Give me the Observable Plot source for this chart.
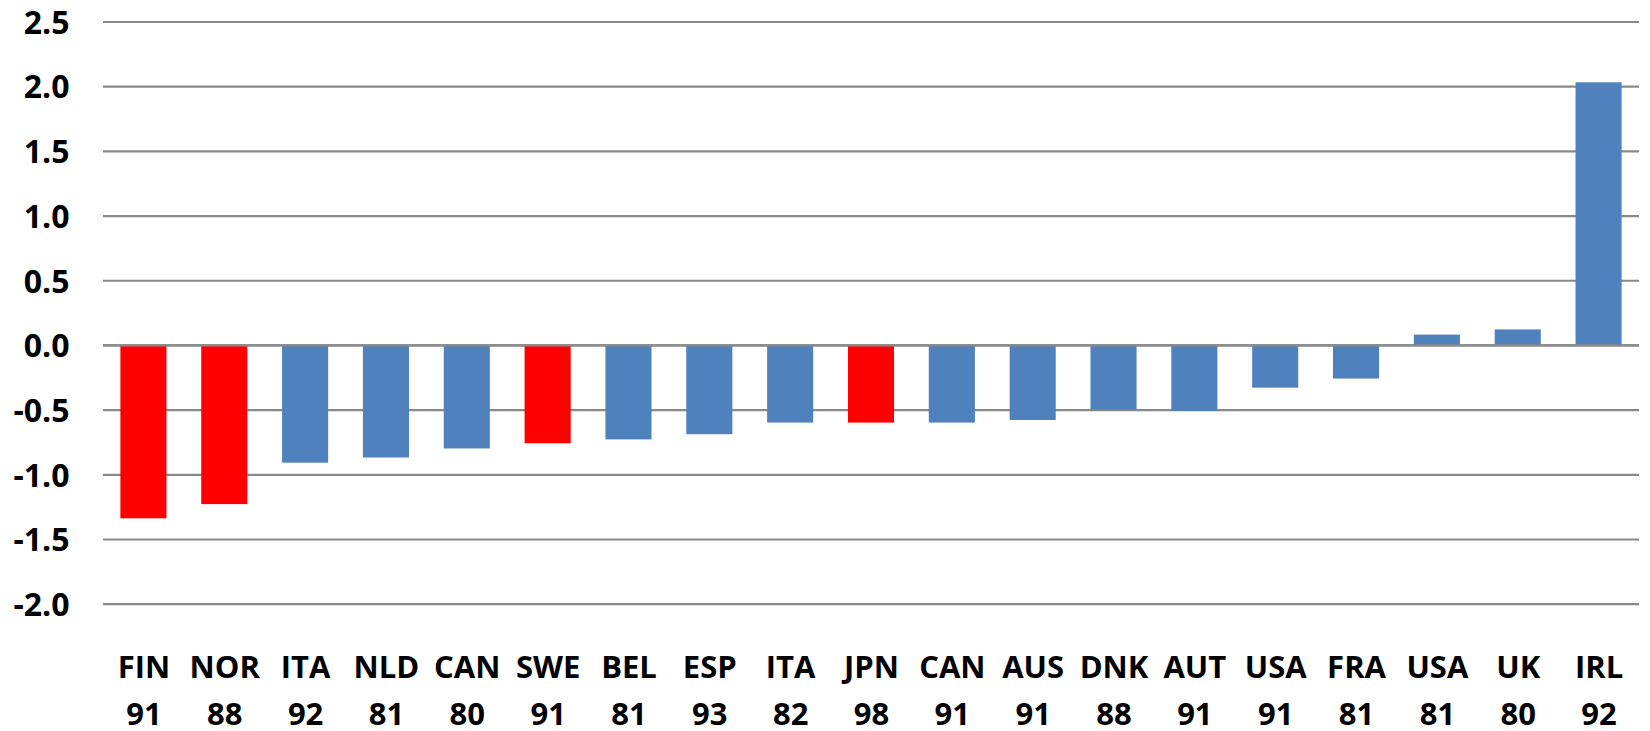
<!DOCTYPE html>
<html>
<head>
<meta charset="utf-8">
<script src="https://cdn.jsdelivr.net/npm/d3@7"></script>
<script src="https://cdn.jsdelivr.net/npm/@observablehq/plot@0.6"></script>
<style>
  html, body { margin: 0; padding: 0; background: #ffffff; }
  #chart svg { display: block; overflow: visible; }
</style>
</head>
<body>
<div id="chart"></div>
<script>
const countries = ["FIN","NOR","ITA","NLD","CAN","SWE","BEL","ESP","ITA","JPN","CAN","AUS","DNK","AUT","USA","FRA","USA","UK","IRL"];
const years     = ["91","88","92","81","80","91","81","93","82","98","91","91","88","91","91","81","81","80","92"];
const values    = [-1.34,-1.23,-0.91,-0.87,-0.80,-0.76,-0.73,-0.69,-0.60,-0.60,-0.60,-0.58,-0.50,-0.51,-0.33,-0.26,0.08,0.12,2.03];
const highlighted = ["FIN\n91","NOR\n88","SWE\n91","JPN\n98"];
const yTicks = [-2.0,-1.5,-1.0,-0.5,0.0,0.5,1.0,1.5,2.0,2.5];

const data = countries.map((c, i) => ({
  label: c + "\n" + years[i],
  value: values[i],
  group: highlighted.includes(c + "\n" + years[i]) ? "highlight" : "other"
}));

const chart = Plot.plot({
  width: 1650,
  height: 731,
  marginLeft: 103,
  marginRight: 11,
  marginTop: 21.5,
  marginBottom: 127.3,
  style: { background: "#ffffff", fontFamily: "'Open Sans', sans-serif", overflow: "visible" },
  x: { domain: data.map(d => d.label), paddingInner: 0.43, paddingOuter: 0.215, round: false, label: null },
  y: { domain: [-2.0, 2.5], label: null },
  color: { domain: ["highlight", "other"], range: ["#ff0000", "#4f81bd"] },
  marks: [
    Plot.ruleY(yTicks, { stroke: "#898989", strokeWidth: 2.2 }),
    Plot.barY(data, { x: "label", y: "value", fill: "group" }),
    Plot.ruleY([0], { stroke: "#898989", strokeWidth: 2.2 }),
    Plot.axisY({
      ticks: yTicks,
      tickSize: 0,
      tickPadding: 34,
      tickFormat: d => d.toFixed(1),
      fontSize: 32,
      fontWeight: "bold",
      fill: "#000000",
      dy: 1.5,
      label: null
    }),
    Plot.axisX({
      tickSize: 0,
      tickPadding: 41,
      fontSize: 31,
      fontWeight: "bold",
      fill: "#000000",
      lineHeight: 1.5,
      label: null
    })
  ]
});

document.getElementById("chart").appendChild(chart);
</script>
</body>
</html>
